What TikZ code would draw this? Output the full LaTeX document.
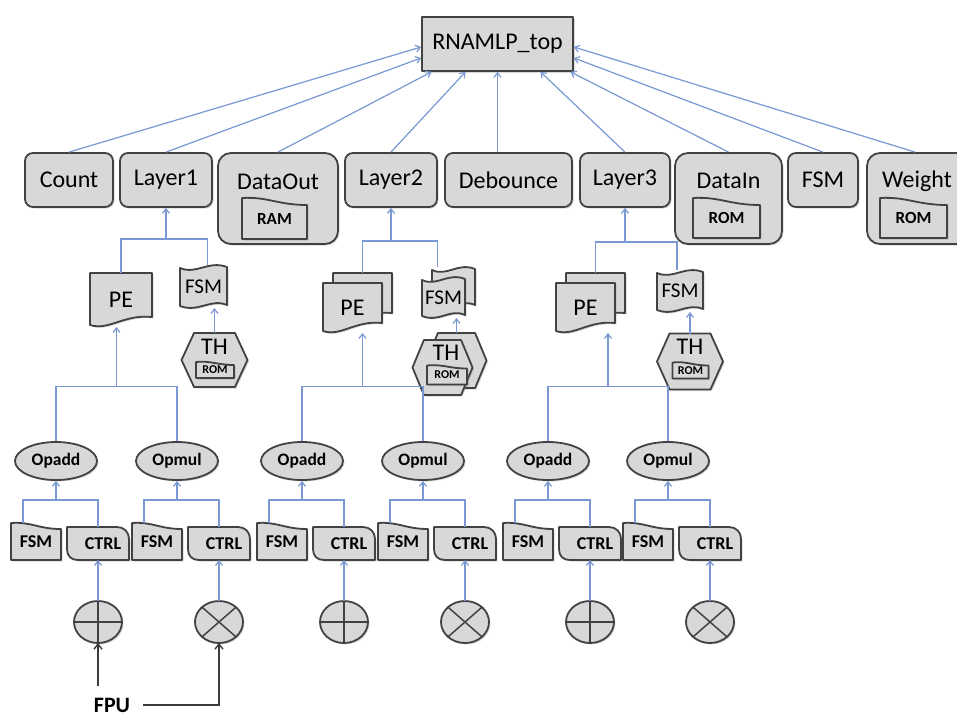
\documentclass[tikz,border=0pt]{standalone}
\usepackage{fontspec}
\setmainfont{Carlito}
\usetikzlibrary{arrows.meta,shapes.geometric,shadows,calc}

\definecolor{boxfill}{RGB}{216,216,216}
\definecolor{boxline}{RGB}{66,66,66}
\definecolor{linkblue}{RGB}{122,152,210}
\definecolor{fpuline}{RGB}{60,60,60}

\tikzset{
  shp/.style={draw=boxline, fill=boxfill, line width=1.8pt, line join=round,
    drop shadow={shadow xshift=1.5pt, shadow yshift=-1.5pt, opacity=0.3}},
  bare/.style={inner sep=0pt, outer sep=0pt, text=black},
  ftbig/.style={font=\fontsize{24}{28}\selectfont},
  ftmid/.style={font=\fontsize{21}{24}\selectfont},
  ftsmall/.style={font=\bfseries\fontsize{18}{20}\selectfont},
  ftmem/.style={font=\bfseries\fontsize{17}{20}\selectfont},
  fttiny/.style={font=\bfseries\fontsize{12}{14}\selectfont},
  topbox/.style={shp, rectangle, minimum width=151, minimum height=54, inner sep=0pt, ftbig},
  modbox/.style={shp, rectangle, rounded corners=8pt, minimum height=54, inner sep=0pt, ftbig},
  membox/.style={shp, rectangle, rounded corners=13pt, minimum height=91, inner sep=0pt},
  opnode/.style={shp, ellipse, minimum width=82, minimum height=38, inner sep=0pt,
    font=\bfseries\fontsize{17.5}{20}\selectfont},
  mathop/.style={shp, ellipse, minimum width=48, minimum height=42, inner sep=0pt, outer sep=0pt},
  symline/.style={draw=boxline, line width=1.5pt},
  link/.style={draw=linkblue, line width=1.2pt},
  arr/.style={link, -{Straight Barb[length=4.5pt,width=7pt]}},
  fpuarr/.style={draw=fpuline, line width=1.4pt, -{Straight Barb[length=5pt,width=8pt]}},
  fpulbl/.style={inner xsep=13pt, inner ysep=12pt, font=\bfseries\fontsize{22}{24}\selectfont},
}

% document sheet with a wavy lower edge: name, cx, cy, w, h, text
\newcommand\docnode[6]{%
  \draw[shp] ({#2-#4/2},{#3-#5/2}) -- ({#2+#4/2},{#3-#5/2}) -- ({#2+#4/2},{#3+#5/2-10})
    .. controls ({#2+#4/2-0.45*#4},{#3+#5/2-13}) and ({#2-#4/2+0.3*#4},{#3+#5/2+4}) .. ({#2-#4/2},{#3+#5/2-2}) -- cycle;
  \node[bare, ftbig, minimum width=#4, minimum height=#5] (#1) at (#2,#3) {#6};}

% punched tape (wavy top and bottom): name, cx, cy, w, h, text
\newcommand\tapenode[6]{%
  \draw[shp] ({#2-#4/2},{#3-#5/2+3}) .. controls ({#2-#4/2+0.35*#4},{#3-#5/2+10}) and ({#2-#4/2+0.6*#4},{#3-#5/2-5}) .. ({#2+#4/2},{#3-#5/2+2})
    -- ({#2+#4/2},{#3+#5/2-3}) .. controls ({#2+#4/2-0.35*#4},{#3+#5/2-10}) and ({#2-#4/2+0.4*#4},{#3+#5/2+5}) .. ({#2-#4/2},{#3+#5/2-2}) -- cycle;
  \node[bare, ftmid, minimum width=#4, minimum height=#5] (#1) at (#2,#3) {#6};}

% flat hexagon: name, cx, cy, w, h
\newcommand\hexnode[5]{%
  \draw[shp] ({#2-#4/2+0.19*#4},{#3-#5/2}) -- ({#2+#4/2-0.19*#4},{#3-#5/2}) -- ({#2+#4/2},{#3})
    -- ({#2+#4/2-0.19*#4},{#3+#5/2}) -- ({#2-#4/2+0.19*#4},{#3+#5/2}) -- ({#2-#4/2},{#3}) -- cycle;
  \node[bare, minimum width=#4, minimum height=#5] (#1) at (#2,#3) {};}

% card with a sloping top edge: name, cx, cy, w, h, slope depth, font style, text
\newcommand\cardnode[8]{%
  \draw[shp] ({#2-#4/2},{#3+#5/2}) -- ({#2-#4/2},{#3-#5/2})
    .. controls ({#2-#4/2+0.4*#4},{#3-#5/2-1.5}) and ({#2-#4/2+0.55*#4},{#3-#5/2+#6}) .. ({#2+#4/2},{#3-#5/2+#6})
    -- ({#2+#4/2},{#3+#5/2}) -- cycle;
  \node[bare, #7, minimum width=#4, minimum height=#5] (#1) at (#2,#3) {\raisebox{-0.5\dimexpr#6pt\relax}{#8}};}

% control card with two rounded opposite corners: name, cx, cy, w, h, text
\newcommand\ctrlnode[6]{%
  \draw[shp] ({#2-#4/2},{#3-#5/2}) -- ({#2+#4/2-12},{#3-#5/2})
    .. controls ({#2+#4/2-5},{#3-#5/2}) and ({#2+#4/2},{#3-#5/2+5}) .. ({#2+#4/2},{#3-#5/2+12})
    -- ({#2+#4/2},{#3+#5/2}) -- ({#2-#4/2+11},{#3+#5/2})
    .. controls ({#2-#4/2+4},{#3+#5/2}) and ({#2-#4/2},{#3+#5/2-4}) .. ({#2-#4/2},{#3+#5/2-11}) -- cycle;
  \node[bare, ftsmall, minimum width=#4, minimum height=#5] (#1) at (#2,#3) {\hspace*{10pt}#6};}

\begin{document}
\begin{tikzpicture}[x=1pt, y=-1pt]
\useasboundingbox (0,0) rectangle (957,718);
\clip (0,0) rectangle (957,718);
\fill[white] (0,0) rectangle (957,718);

% ---- top module ----
\node[topbox] (rnamlp) at (497.5,44) {RNAMLP\_top};

% ---- first level modules ----
\node[modbox, minimum width=88] (count) at (69,180) {Count};
\node[modbox, minimum width=92] (layer1) at (166,180) {Layer1};
\node[membox, minimum width=120] (dataout) at (278,198.5) {};
\node[bare, ftbig] (dataoutT) at (278,182) {DataOut};
\cardnode{ram}{274.5}{218.5}{65}{41}{7}{ftmem}{RAM}
\node[modbox, minimum width=92] (layer2) at (391,180) {Layer2};
\node[modbox, minimum width=127] (debounce) at (508.5,180) {Debounce};
\node[modbox, minimum width=90] (layer3) at (625,180) {Layer3};
\node[membox, minimum width=107] (datain) at (728.5,198.5) {};
\node[bare, ftbig] (datainT) at (728.5,181) {DataIn};
\cardnode{romA}{726.5}{218}{67}{40}{7}{ftmem}{ROM}
\node[modbox, minimum width=70] (fsmtop) at (823,180) {FSM};
\node[membox, minimum width=104] (weight) at (919,198.5) {};
\node[bare, ftbig] (weightT) at (917,181) {Weight};
\cardnode{romB}{913.5}{218}{67}{40}{7}{ftmem}{ROM}

% ---- layer 1 internals ----
\docnode{pe1}{121}{300}{62}{54}{PE}
\tapenode{fsm1}{203.5}{286.5}{47}{43}{FSM}
\hexnode{th1}{214.5}{360}{66}{54}
\node[bare, ftbig] (th1T) at (214.5,347) {TH};
\cardnode{th1rom}{215}{370}{38}{16}{3}{fttiny}{ROM}

% ---- layer 2 internals (stacked instances) ----
\docnode{pe2b}{362.5}{298}{59}{50}{}
\docnode{pe2}{352.5}{308}{59}{50}{PE}
\tapenode{fsm2b}{453.5}{287.5}{43}{41}{}
\tapenode{fsm2}{443.5}{297.5}{43}{41}{FSM}
\hexnode{th2b}{456.5}{360.5}{60}{55}
\hexnode{th2}{442.5}{367.5}{60}{55}
\node[bare, ftbig] (th2T) at (446,353) {TH};
\cardnode{th2rom}{447}{375}{40}{19}{3}{fttiny}{ROM}

% ---- layer 3 internals ----
\docnode{pe3b}{595.5}{298}{59}{50}{}
\docnode{pe3}{585.5}{308}{59}{50}{PE}
\tapenode{fsm3}{680}{291}{46}{42}{FSM}
\hexnode{th3}{690}{361.5}{66}{56}
\node[bare, ftbig] (th3T) at (690,347) {TH};
\cardnode{th3rom}{690.5}{370.5}{36}{16}{3}{fttiny}{ROM}

% ---- operators, their FSM/CTRL parts and arithmetic units ----
\foreach \i/\c/\op in {1/56/Opadd,2/177/Opmul,3/302/Opadd,4/423/Opmul,5/548/Opadd,6/668/Opmul}{
  \node[opnode] (op\i) at (\c,461) {\op};
  \cardnode{fsmc\i}{\c-20}{541.5}{50}{37}{6}{ftsmall}{FSM}
  \ctrlnode{ctrl\i}{\c+42}{543.5}{62}{33}{CTRL}
  \node[mathop] (sym\i) at (\c+42,622) {};
  \coordinate (m\i) at ($(op\i.south)+(0,19)$);
  \draw[arr] (m\i) -- (op\i.south);
  \draw[link] ([xshift=-13pt]fsmc\i.north) |- (m\i) -| (ctrl\i.north);
  \draw[arr] (sym\i.north) -- (ctrl\i.south);
}
\foreach \i in {1,3,5}
  \draw[symline] (sym\i.north) -- (sym\i.south) (sym\i.west) -- (sym\i.east);
\foreach \i in {2,4,6}
  \draw[symline] (sym\i.north east) -- (sym\i.south west) (sym\i.north west) -- (sym\i.south east);

% ---- operator pairs feed the PE blocks ----
\foreach \a/\b/\p in {1/2/pe1,3/4/pe2,5/6/pe3}{
  \coordinate (k\a) at ($(op\a.north)!0.5!(op\b.north)+(0,-55)$);
  \draw[link] (op\a.north) |- (k\a) -| (op\b.north);
  \draw[arr] (k\a) -- (k\a |- \p.south);
}

% ---- TH feeds FSM ----
\draw[arr] (th1.north) -- (th1.north |- fsm1.south);
\draw[arr] (th2b.north) -- (th2b.north |- fsm2.south);
\draw[arr] (th3.north) -- (th3.north |- fsm3.south);

% ---- layer junctions ----
\coordinate (j1) at ($(layer1.south)+(0,31)$);
\draw[arr] (j1) -- (layer1.south);
\draw[link] (j1) -| (pe1.north);
\draw[link] (j1) -| ([xshift=4pt]fsm1.north);
\coordinate (j2) at ($(layer2.south)+(0,33)$);
\draw[arr] (j2) -- (layer2.south);
\draw[link] (j2) -| (pe2b.north);
\draw[link] (j2) -| ([xshift=-16pt]fsm2b.north);
\coordinate (j3) at ($(layer3.south)+(0,34)$);
\draw[arr] (j3) -- (layer3.south);
\draw[link] (j3) -| (pe3b.north);
\draw[link] (j3) -| ([xshift=-3pt]fsm3.north);

% ---- first level modules feed the top ----
\draw[arr] (count.north) -- ([yshift=-3pt]rnamlp.west);
\draw[arr] (layer1.north) -- ([yshift=-14pt]rnamlp.west);
\draw[arr] (dataout.north) -- ([xshift=-66pt]rnamlp.south);
\draw[arr] (layer2.north) -- ([xshift=-32pt]rnamlp.south);
\draw[arr] (debounce.north -| rnamlp.south) -- (rnamlp.south);
\draw[arr] (layer3.north) -- ([xshift=43pt]rnamlp.south);
\draw[arr] (datain.north) -- ([xshift=73pt]rnamlp.south);
\draw[arr] (fsmtop.north) -- ([yshift=-14pt]rnamlp.east);
\draw[arr] ([xshift=-4pt]weight.north) -- ([yshift=-3pt]rnamlp.east);

% ---- FPU ----
\node[fpulbl] (fpu) at (112,705) {FPU};
\draw[fpuarr] (fpu.north -| sym1.south) -- (sym1.south);
\draw[fpuarr] (fpu.east) -| (sym2.south);
\end{tikzpicture}
\end{document}
